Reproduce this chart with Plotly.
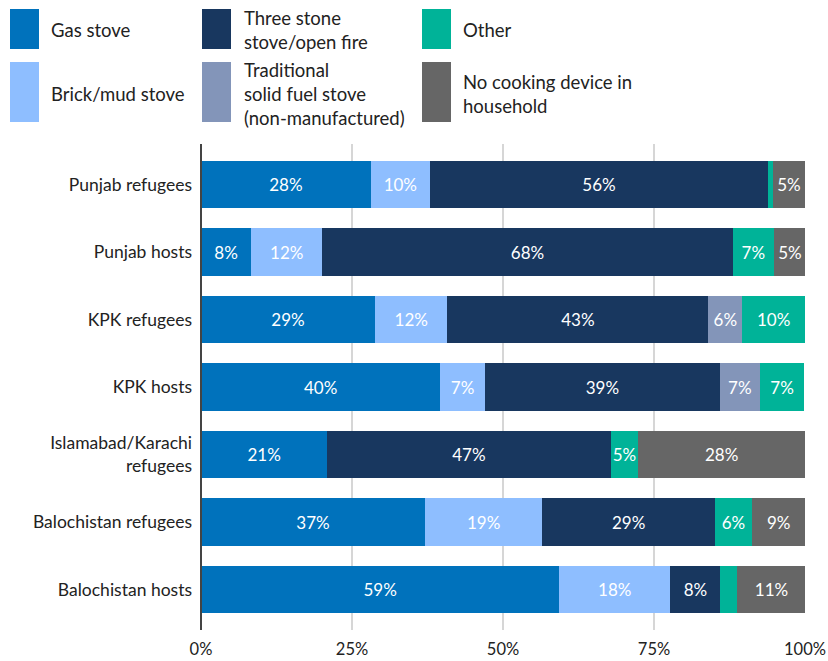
import plotly.graph_objects as go

categories = ["Punjab refugees", "Punjab hosts", "KPK refugees", "KPK hosts",
              "Islamabad/Karachi<br>refugees", "Balochistan refugees", "Balochistan hosts"]

gas_stove = [28.1, 8.3, 28.8, 39.6, 20.9, 37.1, 59.3]
brick_mud_stove = [9.8, 11.8, 12.0, 7.4, 0, 19.4, 18.4]
three_stone = [56.0, 67.9, 43.2, 38.9, 46.9, 28.6, 8.3]
traditional = [0, 0, 5.6, 6.6, 0, 0, 0]
other = [0.8, 6.9, 10.4, 7.4, 4.6, 6.1, 2.8]
no_device = [5.3, 5.2, 0, 0, 27.6, 8.9, 11.3]

series_names = ["Gas stove", "Brick/mud stove", "Three stone<br>stove/open fire",
                "Traditional<br>solid fuel stove<br>(non-manufactured)", "Other",
                "No cooking device in<br>household"]
series_values = [gas_stove, brick_mud_stove, three_stone, traditional, other, no_device]
series_colors = ["#0072BC", "#8EBEFF", "#18375F", "#8395B9", "#00B398", "#666666"]

x_ticks = [0, 25, 50, 75, 100]
x_tick_labels = ["0%", "25%", "50%", "75%", "100%"]

FONT = "Lato, 'Open Sans', sans-serif"
TEXT_COLOR = "#222222"
W, H = 828, 661
L, R, T, B = 201, 805, 144, 630

fig = go.Figure()
for name, vals, col in zip(series_names, series_values, series_colors):
    fig.add_trace(go.Bar(
        y=categories, x=vals, name=name, orientation="h",
        marker=dict(color=col, line=dict(width=0)),
        text=[f"{round(v)}%" if v >= 4 else "" for v in vals],
        textposition="inside", insidetextanchor="middle", textangle=0,
        textfont=dict(color="white", size=17, family=FONT),
        hoverinfo="skip", showlegend=False,
    ))

def px(x):
    return (x - L) / (R - L)

def py(y):
    return (B - y) / (B - T)

shapes = []
annotations = []

# manual legend: (swatch left, swatch top, swatch bottom, text left) in page pixels
legend_layout = [
    (10, 9, 49, 49), (10, 62, 122, 49),
    (202, 9, 49, 242), (202, 62, 122, 242),
    (422, 9, 49, 461), (422, 62, 122, 461),
]
for (lx, top, bot, tx), i in zip(legend_layout, range(len(series_names))):
    shapes.append(dict(type="rect", xref="paper", yref="paper",
                       x0=px(lx), x1=px(lx + 29), y0=py(bot), y1=py(top),
                       fillcolor=series_colors[i], line=dict(width=0), layer="above"))
    annotations.append(dict(xref="paper", yref="paper", x=px(tx), y=py((top + bot) / 2),
                            yshift=-1.5,
                            text=series_names[i], showarrow=False, xanchor="left",
                            yanchor="middle", align="left",
                            font=dict(size=18.5, color=TEXT_COLOR, family=FONT)))

fig.update_layout(
    width=W, height=H,
    margin=dict(l=L, r=W - R, t=T, b=H - B, pad=0, autoexpand=False),
    barmode="stack", bargap=0.29,
    plot_bgcolor="white", paper_bgcolor="white",
    font=dict(family=FONT, size=16, color=TEXT_COLOR),
    xaxis=dict(range=[0, 100], tickvals=x_ticks, ticktext=x_tick_labels,
               showgrid=True, gridcolor="#d6d6d6", gridwidth=1.5, zeroline=False,
               showline=False, ticks="", ticklabelstandoff=7, automargin=False,
               tickfont=dict(size=16.5, color=TEXT_COLOR)),
    yaxis=dict(type="category", range=[6.6, -0.6], showgrid=False, showline=False,
               ticks="", ticklabelstandoff=8, automargin=False,
               tickfont=dict(size=17.5, color=TEXT_COLOR)),
    shapes=shapes + [dict(type="line", xref="paper", yref="paper", x0=0, x1=0, y0=0, y1=1,
                          line=dict(color="#444444", width=2), layer="above")],
    annotations=annotations,
    uniformtext=dict(minsize=17, mode="show"),
)

fig.write_html("out.html", config={"displayModeBar": False, "staticPlot": True},
               post_script="document.body.style.margin='0px';"
                           "document.body.style.overflow='hidden';")
